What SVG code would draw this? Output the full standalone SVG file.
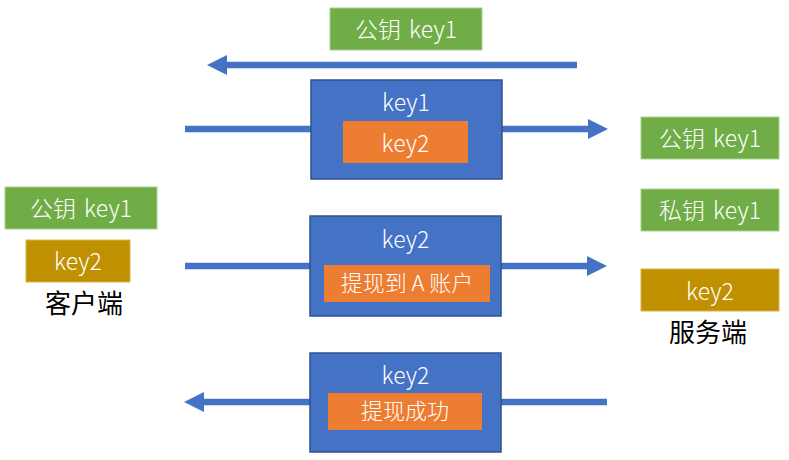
<svg xmlns="http://www.w3.org/2000/svg" width="789" height="460" viewBox="0 0 789 460">
<defs>
<style>
.t{font-family:"Microsoft YaHei","Noto Sans CJK SC","Noto Sans",sans-serif;font-size:23px;font-weight:300;word-spacing:3px;fill:#fff;text-anchor:middle}
.s{font-size:22px;word-spacing:0}
.lbl{font-family:"Microsoft YaHei","Noto Sans CJK SC","Noto Sans",sans-serif;font-size:26px;fill:#000;text-anchor:middle}
.green{fill:#70AD47;stroke:#A9D18E;stroke-width:1}
.gold{fill:#BF9000;stroke:#D9B54A;stroke-width:1}
.blue{fill:#4472C4;stroke:#2F528F;stroke-width:1.5}
.orange{fill:#ED7D31}
.conn{stroke:#4472C4;stroke-width:6.5;fill:none;marker-end:url(#ah)}
</style>
<marker id="ah" markerUnits="userSpaceOnUse" markerWidth="20" markerHeight="20" refX="0" refY="10" orient="auto">
<path d="M0,0 L20,10 L0,20 z" fill="#4472C4"/>
</marker>
</defs>
<rect width="789" height="460" fill="#fff"/>
<g id="connectors">
<line class="conn" x1="577" y1="65" x2="227" y2="65"/>
<line class="conn" x1="185" y1="129" x2="588" y2="129"/>
<line class="conn" x1="185" y1="266" x2="587" y2="266"/>
<line class="conn" x1="607" y1="402" x2="204" y2="402"/>
</g>
<g id="pubkey-top">
<rect class="green" x="330" y="8" width="152" height="42"/>
<text class="t" x="406" y="38">公钥 key1</text>
</g>
<g id="msg1">
<rect class="blue" x="311" y="80" width="191" height="99"/>
<text class="t" x="406" y="111">key1</text>
<rect class="orange" x="343" y="121" width="125" height="42"/>
<text class="t" x="405.5" y="152">key2</text>
</g>
<g id="msg2">
<rect class="blue" x="310" y="216" width="191" height="100"/>
<text class="t" x="405.5" y="248">key2</text>
<rect class="orange" x="324" y="265" width="166" height="37"/>
<text class="t s" x="407" y="291">提现到 A 账户</text>
</g>
<g id="msg3">
<rect class="blue" x="310" y="353" width="191" height="99"/>
<text class="t" x="405.5" y="384">key2</text>
<rect class="orange" x="328" y="393" width="154" height="37"/>
<text class="t s" x="405" y="419">提现成功</text>
</g>
<g id="client">
<rect class="green" x="5" y="187" width="152" height="42"/>
<text class="t" x="81" y="217">公钥 key1</text>
<rect class="gold" x="26" y="240" width="104" height="42"/>
<text class="t" x="78" y="270">key2</text>
<text class="lbl" x="84" y="313">客户端</text>
</g>
<g id="server">
<rect class="green" x="641" y="117" width="138" height="42"/>
<text class="t" x="710" y="147">公钥 key1</text>
<rect class="green" x="641" y="189" width="138" height="42"/>
<text class="t" x="710" y="219">私钥 key1</text>
<rect class="gold" x="641" y="269" width="138" height="42"/>
<text class="t" x="710" y="300">key2</text>
<text class="lbl" x="708" y="342">服务端</text>
</g>
</svg>
